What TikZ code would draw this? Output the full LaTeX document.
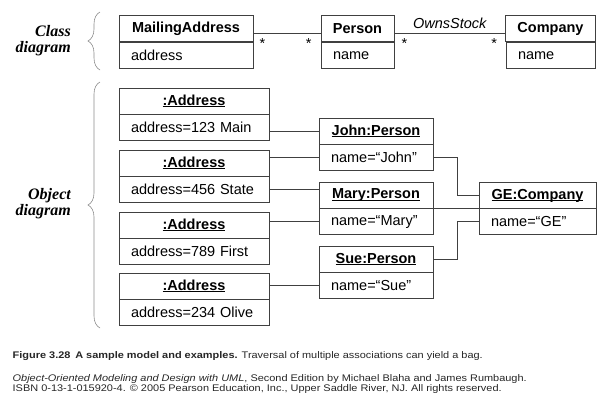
\documentclass[tikz,border=0pt]{standalone}
\usepackage{fontspec}
\setmainfont{Liberation Sans}
\newfontfamily\labelfont{Liberation Serif}
\newfontfamily\capfont[FakeStretch=1.14]{Liberation Sans}
\usetikzlibrary{positioning, decorations.pathreplacing}

\newcommand{\objname}[1]{\underline{\raisebox{0pt}[\height][0pt]{#1}}}

\tikzset{
  box/.style={draw=black!75, line width=0.7pt, inner xsep=12pt, inner ysep=0pt,
    minimum height=26pt, font=\fontsize{14.5}{17}\selectfont},
  head/.style={box, font=\fontsize{14.5}{17}\selectfont\bfseries},
  attr/.style={box, align=left},
  link/.style={draw=black!75, line width=0.7pt},
  mult/.style={font=\fontsize{14.5}{17}\selectfont, inner sep=0pt},
  group/.style={align=right, inner sep=0pt, font=\labelfont\bfseries\itshape\fontsize{16}{16}\selectfont},
  bracket/.style={draw=black!45, line width=0.6pt, decorate, decoration={brace, amplitude=12pt}},
  caption/.style={inner sep=0pt, text=black!85, font=\capfont\fontsize{9.6}{10}\selectfont},
}

\begin{document}
\begin{tikzpicture}[x=1pt, y=-1pt]
    \useasboundingbox (0, 0) rectangle (608, 402);

    % class diagram
    \node[head, minimum width=134pt] (mailing) at (186, 28.5) {MailingAddress};
    \node[attr, text width=110pt, below=0pt of mailing] (mailing_attr) {address};
    \node[head, minimum width=73pt] (person) at (357.5, 28.5) {Person};
    \node[attr, text width=49pt, below=0pt of person] (person_attr) {name};
    \node[head, minimum width=89pt] (company) at (550.5, 28.5) {Company};
    \node[attr, text width=65pt, below=0pt of company] (company_attr) {name};

    \draw[link] ([yshift=-4.5pt]mailing.east) --
        node[mult, pos=0, xshift=9pt, yshift=-11pt] {*}
        node[mult, pos=1, xshift=-12pt, yshift=-11pt] {*}
        ([yshift=-4.5pt]person.west);
    \draw[link] ([yshift=-4.5pt]person.east) --
        node[mult, pos=0, xshift=10pt, yshift=-11pt] {*}
        node[mult, pos=1, xshift=-11pt, yshift=-11pt] {*}
        node[above, inner sep=4pt, font=\fontsize{14.5}{17}\selectfont\itshape] {OwnsStock}
        ([yshift=-4.5pt]company.west);

    % object diagram
    \node[head, minimum width=150pt] (addr1) at (194, 101) {\objname{:Address}};
    \node[attr, text width=126pt, below=0pt of addr1] (addr1_attr) {address=123 Main};
    \node[head, minimum width=150pt] (addr2) at (194, 163) {\objname{:Address}};
    \node[attr, text width=126pt, below=0pt of addr2] (addr2_attr) {address=456 State};
    \node[head, minimum width=150pt] (addr3) at (194, 225) {\objname{:Address}};
    \node[attr, text width=126pt, below=0pt of addr3] (addr3_attr) {address=789 First};
    \node[head, minimum width=150pt] (addr4) at (194, 286) {\objname{:Address}};
    \node[attr, text width=126pt, below=0pt of addr4] (addr4_attr) {address=234 Olive};

    \node[head, minimum width=114pt] (john) at (376, 131) {\objname{John:Person}};
    \node[attr, text width=90pt, below=0pt of john] (john_attr) {name=“John”};
    \node[head, minimum width=114pt] (mary) at (376, 195) {\objname{Mary:Person}};
    \node[attr, text width=90pt, below=0pt of mary] (mary_attr) {name=“Mary”};
    \node[head, minimum width=114pt] (sue) at (376, 259) {\objname{Sue:Person}};
    \node[attr, text width=90pt, below=0pt of sue] (sue_attr) {name=“Sue”};

    \node[head, minimum width=117pt] (ge) at (537.5, 195) {\objname{GE:Company}};
    \node[attr, text width=93pt, below=0pt of ge] (ge_attr) {name=“GE”};

    \draw[link] (john.west -| addr1_attr.east) -- (john.west);
    \draw[link] (john_attr.west -| addr2.east) -- (john_attr.west);
    \draw[link] (addr2_attr.east) -- (addr2_attr.east -| mary.west);
    \draw[link] (mary_attr.west -| addr3.east) -- (mary_attr.west);
    \draw[link] (sue_attr.west -| addr4.east) -- (sue_attr.west);

    \coordinate (bus) at (457, 0);
    \draw[link] (john_attr.east) -- (john_attr.east -| bus) |- (ge.west);
    \draw[link] (mary.south east) -- (ge.south west);
    \draw[link] (sue.east) -- (sue.east -| bus) |- (ge_attr.west);

    % braces and labels
    \draw[bracket] (100, 70) -- (100, 12);
    \draw[bracket] (100, 328) -- (100, 82);
    \node[group, anchor=east] (class_lbl) at (71, 41) {Class\\diagram};
    \node[group, anchor=east] (object_lbl) at (71, 204) {Object\\diagram};

    % caption
    \node[caption, anchor=base west] (fig_caption) at (12.5, 358.3)
        {\textbf{Figure 3.28\enspace A sample model and examples.} Traversal of multiple associations can yield a bag.};
    \node[caption, anchor=base west] (source_1) at (12.5, 381.7)
        {\textit{Object-Oriented Modeling and Design with UML}, Second Edition by Michael Blaha and James Rumbaugh.};
    \node[caption, anchor=base west] (source_2) at (12.5, 391.7)
        {ISBN 0-13-1-015920-4. © 2005 Pearson Education, Inc., Upper Saddle River, NJ. All rights reserved.};
\end{tikzpicture}
\end{document}
